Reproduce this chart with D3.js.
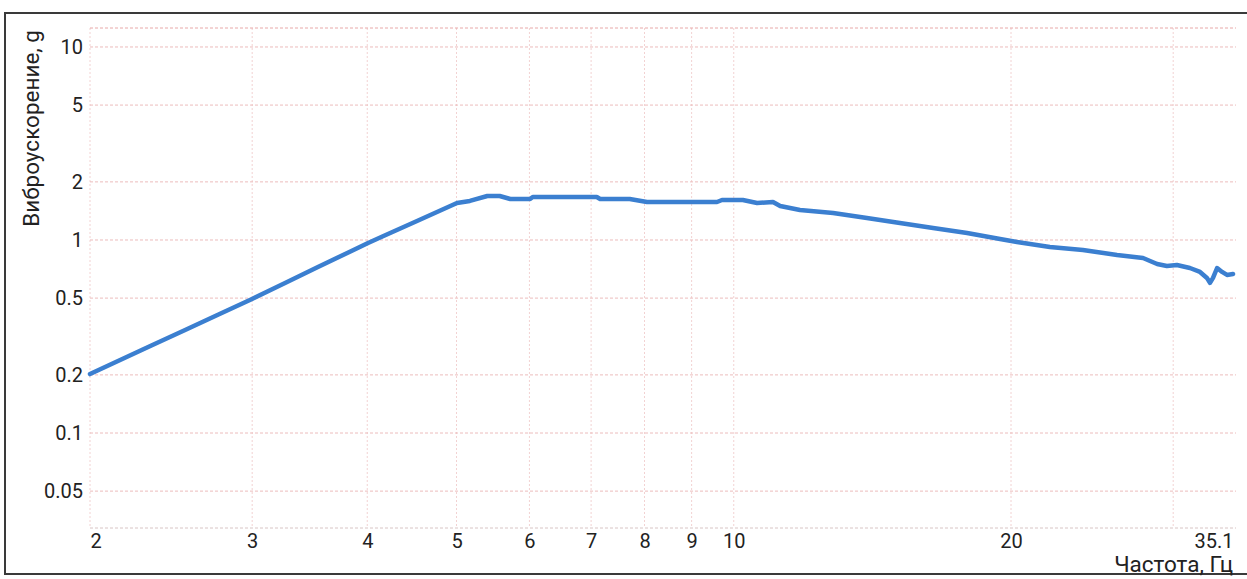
<!DOCTYPE html>
<html>
<head>
<meta charset="utf-8">
<script src="https://cdn.jsdelivr.net/npm/d3@7"></script>
<style>
  html, body { margin: 0; padding: 0; background: #ffffff; }
  svg { display: block; }
  text { font-family: Roboto, "Noto Sans", sans-serif; fill: #222; }
</style>
</head>
<body>
<svg id="chart" width="1247" height="579"></svg>
<script>
// Vibration acceleration response vs frequency (log-log)
const freqHz = [2.00, 2.145, 2.335, 2.537, 2.754, 2.999, 3.257, 3.536, 3.85, 4.008, 4.16, 4.53,
  5.006, 5.17, 5.40, 5.57, 5.72, 6.01, 6.05, 7.10, 7.16, 7.71, 8.05, 9.59, 9.71, 10.23,
  10.60, 11.03, 11.23, 11.80, 12.82, 13.95, 15.15, 16.46, 17.92, 19.46, 20.30, 22.04,
  23.94, 26.07, 27.82, 28.82, 29.53, 30.28, 31.28, 32.08, 32.64, 32.89, 33.14, 33.48,
  33.90, 34.32, 34.84];
const accelG = [0.202, 0.236, 0.285, 0.342, 0.410, 0.495, 0.598, 0.724, 0.880, 0.965, 1.045, 1.254,
  1.555, 1.593, 1.690, 1.690, 1.631, 1.631, 1.671, 1.671, 1.631, 1.631, 1.574, 1.574, 1.612, 1.612,
  1.555, 1.574, 1.500, 1.430, 1.380, 1.300, 1.225, 1.154, 1.087, 1.012, 0.976, 0.920,
  0.888, 0.836, 0.807, 0.751, 0.733, 0.742, 0.716, 0.683, 0.636, 0.599, 0.636, 0.716,
  0.683, 0.659, 0.667];

const xTickValues = [2, 3, 4, 5, 6, 7, 8, 9, 10, 20, 35.1];
const xGridValues = [2, 3, 4, 5, 6, 7, 8, 9, 10, 20, 30];
const yTickValues = [10, 5, 2, 1, 0.5, 0.2, 0.1, 0.05];
const xDomain = [2, 35.1];
const yDomain = [0.0322, 12.54];
const xTitle = "Частота, Гц";
const yTitle = "Виброускорение, g";

const svg = d3.select("#chart");
const plotLeft = 90, plotRight = 1236, plotTop = 28, plotBottom = 528;

const x = d3.scaleLog().domain(xDomain).range([plotLeft, plotRight]);
const y = d3.scaleLog().domain(yDomain).range([plotBottom, plotTop]);

// outer frame
svg.append("rect")
  .attr("x", 5).attr("y", 13)
  .attr("width", 1260).attr("height", 561)
  .attr("fill", "none").attr("stroke", "#3a3a3a").attr("stroke-width", 2);

// grid
const grid = svg.append("g");
grid.selectAll("line.v").data(xGridValues).join("line")
  .attr("x1", d => x(d)).attr("x2", d => x(d))
  .attr("y1", plotTop).attr("y2", plotBottom)
  .attr("stroke", "#f2d2d2").attr("stroke-width", 1).attr("stroke-dasharray", "2,2");
grid.selectAll("line.h").data(yTickValues).join("line")
  .attr("x1", plotLeft).attr("x2", plotRight)
  .attr("y1", d => y(d)).attr("y2", d => y(d))
  .attr("stroke", "#ecbcbc").attr("stroke-width", 1).attr("stroke-dasharray", "3,2");
grid.selectAll("line.b").data(yDomain).join("line")
  .attr("x1", plotLeft).attr("x2", plotRight)
  .attr("y1", d => y(d)).attr("y2", d => y(d))
  .attr("stroke", d => d === yDomain[1] ? "#e8a8a8" : "#d8c4c4")
  .attr("stroke-width", 1).attr("stroke-dasharray", "3,2");

// y axis labels
const yAxis = d3.axisLeft(y).tickValues(yTickValues).tickSize(0).tickPadding(7)
  .tickFormat(d3.format("~g"));
const gy = svg.append("g").attr("transform", `translate(${plotLeft},0)`).call(yAxis);
gy.select(".domain").remove();
gy.selectAll("text").style("font-size", "20px").style("font-family", "Roboto, sans-serif").attr("fill", "#222");

// x axis labels
const xAxis = d3.axisBottom(x).tickValues(xTickValues).tickSize(0).tickPadding(6)
  .tickFormat(d3.format("~g"));
const gx = svg.append("g").attr("transform", `translate(0,${plotBottom})`).call(xAxis);
gx.select(".domain").remove();
gx.selectAll("text").style("font-size", "20px").style("font-family", "Roboto, sans-serif").attr("fill", "#222")
  .attr("text-anchor", (d, i) => i === 0 ? "start" : (i === xTickValues.length - 1 ? "end" : "middle"))
  .attr("dx", (d, i) => i === xTickValues.length - 1 ? -3 : 0);

// axis titles
svg.append("text")
  .attr("transform", "translate(39,30) rotate(-90)")
  .attr("text-anchor", "end")
  .style("font-size", "22.5px")
  .text(yTitle);
svg.append("text")
  .attr("x", 1233).attr("y", 572)
  .attr("text-anchor", "end")
  .style("font-size", "22.5px")
  .text(xTitle);

// response curve
const line = d3.line().x((d, i) => x(freqHz[i])).y(d => y(d));
svg.append("path")
  .datum(accelG)
  .attr("d", line)
  .attr("fill", "none")
  .attr("stroke", "#3b7fd0")
  .attr("stroke-width", 4.5)
  .attr("stroke-linejoin", "round")
  .attr("stroke-linecap", "round");
</script>
</body>
</html>
